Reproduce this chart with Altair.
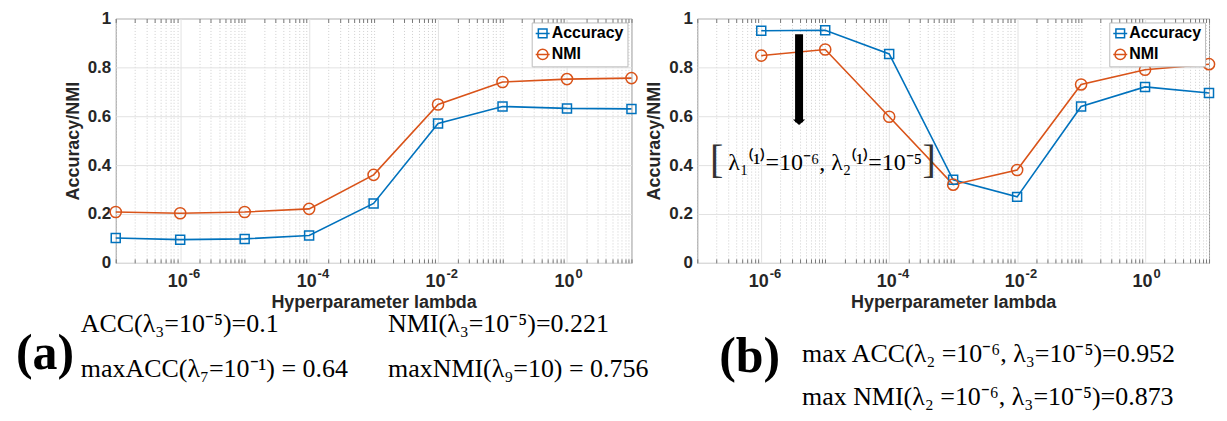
import math
import altair as alt
import pandas as pd

# ---------------- data ----------------
lam_a = [1e-7, 1e-6, 1e-5, 1e-4, 1e-3, 1e-2, 1e-1, 1e0, 1e1]
acc_a = [0.102, 0.095, 0.098, 0.112, 0.243, 0.570, 0.640, 0.632, 0.630]
nmi_a = [0.208, 0.203, 0.208, 0.221, 0.360, 0.648, 0.740, 0.752, 0.756]

lam_b = [1e-6, 1e-5, 1e-4, 1e-3, 1e-2, 1e-1, 1e0, 1e1]
acc_b = [0.950, 0.952, 0.855, 0.340, 0.270, 0.640, 0.720, 0.695]
nmi_b = [0.848, 0.873, 0.598, 0.320, 0.380, 0.730, 0.790, 0.813]

series = ["Accuracy", "NMI"]
colors = ["#0072BD", "#D95319"]

x_domain = [1e-7, 1e1]
x_ticks = [1e-6, 1e-4, 1e-2, 1e0]
x_tick_base = "10"
x_tick_exp = ["-6", "-4", "-2", "0"]
y_ticks = [0, 0.2, 0.4, 0.6, 0.8, 1.0]

text_a_head = "(a)"
text_a = ["ACC(λ₃=10⁻⁵)=0.1", "NMI(λ₃=10⁻⁵)=0.221",
          "maxACC(λ₇=10⁻¹) = 0.64", "maxNMI(λ₉=10) = 0.756"]
text_b_head = "(b)"
text_b = ["max ACC(λ₂ =10⁻⁶, λ₃=10⁻⁵)=0.952",
          "max NMI(λ₂ =10⁻⁶, λ₃=10⁻⁵)=0.873"]

note_text = "λ₁⁽¹⁾=10⁻⁶,  λ₂⁽¹⁾=10⁻⁵"
note_lam = [1e-5]
note_val = [0.41]
bracket_text = ["[", "]"]
bracket_lam = [2.0e-7, 4.2e-4]
bracket_val = [0.415, 0.415]
arrow_lam = [3.9e-6]
arrow_top = [0.935]
arrow_tip = [0.575]

# ---------------- helpers ----------------
minor_ticks = [k * 10.0 ** e for e in range(-7, 1) for k in range(1, 10)
               if not (k == 1 and e % 2 == 0)] + [10.0]

exp_expr = " : ".join(
    f"round(log(datum.value)/LN10) == {round(math.log10(v))} ? '{l}'"
    for v, l in zip(x_ticks, x_tick_exp)) + " : ''"

SANS = "Liberation Sans"
SERIF = "Liberation Serif"
AXC = "#262626"

xscale = alt.Scale(type="log", domain=x_domain, nice=False)
yscale = alt.Scale(domain=[0, 1], nice=False)

x_main = alt.X("lam:Q", scale=xscale, axis=alt.Axis(
    orient="bottom", values=x_ticks, labelExpr=f"'{x_tick_base}'",
    title="Hyperparameter lambda", grid=True, gridColor="#e2e2e2",
    domain=False, ticks=False, labelPadding=10, labelOffset=-3, titlePadding=3,
    labelFont=SANS, labelFontSize=18, labelFontWeight="bold", labelColor=AXC,
    titleFont=SANS, titleFontSize=18, titleFontWeight="bold", titleColor=AXC))
x_sup = alt.X("lam:Q", scale=xscale, axis=alt.Axis(
    orient="bottom", values=x_ticks, labelExpr=exp_expr, title=None,
    grid=False, domain=False, ticks=False, labelPadding=5, labelAlign="left",
    labelOffset=8,
    labelFont=SANS, labelFontSize=13, labelFontWeight="bold", labelColor=AXC))
x_minor = alt.X("lam:Q", scale=xscale, axis=alt.Axis(
    orient="bottom", values=minor_ticks, labels=False, title=None,
    domain=False, ticks=True, tickSize=4, offset=-4, tickColor="#777",
    grid=True, gridDash=[1, 2], gridColor="#cfcfcf"))
x_top = alt.X("lam:Q", scale=xscale, axis=alt.Axis(
    orient="top", values=minor_ticks, labels=False, title=None,
    domain=False, ticks=True, tickSize=4, offset=-4, tickColor="#777",
    grid=False))
x_none = alt.X("lam:Q", scale=xscale, axis=None)

y_axis = alt.Axis(
    values=y_ticks, format="~g", title="Accuracy/NMI", grid=True,
    gridColor="#e2e2e2", domain=False, ticks=False, labelPadding=5,
    titlePadding=5,
    labelFont=SANS, labelFontSize=17, labelFontWeight="bold", labelColor=AXC,
    titleFont=SANS, titleFontSize=18, titleFontWeight="bold", titleColor=AXC)
y_enc = alt.Y("val:Q", scale=yscale, axis=y_axis)

legend_paths = ["M-1,0H1M-0.62,-0.62H0.62V0.62H-0.62Z",
                "M-1,0H1M0.75,0A0.75,0.75 0 1 1 -0.75,0A0.75,0.75 0 1 1 0.75,0Z"]
leg = alt.Legend(title=None, orient="top-right", offset=4, fillColor="white",
                 strokeColor="#bdbdbd", padding=3, rowPadding=4,
                 symbolSize=196, symbolStrokeWidth=1.5, labelOffset=1,
                 labelFont=SANS, labelFontSize=16, labelFontWeight="bold",
                 labelColor="#000")


def txt(s, px, py, size, weight="normal", align="left"):
    return alt.Chart(pd.DataFrame({"label": [s]})).mark_text(
        align=align, baseline="middle", font=SERIF, fontSize=size,
        fontWeight=weight, color="#000").encode(
        text="label:N", x=alt.value(px), y=alt.value(py))


def panel(lam, acc, nmi, width, height, extra):
    df = pd.DataFrame({
        "lam": lam + lam,
        "val": acc + nmi,
        "series": [series[0]] * len(lam) + [series[1]] * len(lam),
    })
    base = alt.Chart(df)
    f_acc = alt.datum.series == series[0]
    f_nmi = alt.datum.series == series[1]
    line_acc = base.transform_filter(f_acc).mark_line(
        color=colors[0], strokeWidth=1.6).encode(x=x_main, y=y_enc)
    line_nmi = base.transform_filter(f_nmi).mark_line(
        color=colors[1], strokeWidth=1.6).encode(x=x_minor, y=y_enc)
    pt_acc = base.transform_filter(f_acc).mark_point(
        shape="square", size=81, filled=False, strokeWidth=1.5, opacity=1,
        color=colors[0]).encode(x=x_top, y=y_enc)
    pt_nmi = base.transform_filter(f_nmi).mark_point(
        shape="circle", size=125, filled=False, strokeWidth=1.5, opacity=1,
        color=colors[1]).encode(x=x_sup, y=y_enc)
    legend_layer = base.transform_filter("false").mark_point(
        filled=False, strokeWidth=1.5, opacity=1).encode(
        x=x_none, y=y_enc,
        color=alt.Color("series:N", scale=alt.Scale(domain=series, range=colors), legend=leg),
        shape=alt.Shape("series:N", scale=alt.Scale(domain=series, range=legend_paths), legend=leg))
    layers = [line_acc, line_nmi, pt_acc, pt_nmi, legend_layer] + extra
    return alt.layer(*layers).resolve_axis(x="independent").properties(
        width=width, height=height)


H = 245
FS = 26
extra_a = [
    txt(text_a_head, -100, 336, 50, "bold"),
    txt(text_a[0], -35, 306, FS),
    txt(text_a[1], 273, 306, FS),
    txt(text_a[2], -35, 351, FS),
    txt(text_a[3], 273, 351, FS),
]

arrow_df = pd.DataFrame({"lam": arrow_lam, "val": arrow_top, "tip": arrow_tip})
arrow_shaft = alt.Chart(arrow_df).mark_rule(color="#000", strokeWidth=8).encode(
    x=x_none, y=y_enc, y2="tip:Q")
arrow_head = alt.Chart(arrow_df).mark_point(
    shape="M-1,-0.45L1,-0.45L0,0.45Z", size=150, filled=True, color="#000",
    opacity=1).encode(x=x_none, y=alt.Y("tip:Q", scale=yscale, axis=y_axis))
note = alt.Chart(pd.DataFrame({"lam": note_lam, "val": note_val, "label": [note_text]})).mark_text(
    font=SERIF, fontSize=24, align="center", baseline="middle", color="#000").encode(
    x=x_none, y=y_enc, text="label:N")
brackets = alt.Chart(pd.DataFrame({"lam": bracket_lam, "val": bracket_val, "label": bracket_text})).mark_text(
    font=SERIF, fontSize=40, align="center", baseline="middle", color="#333").encode(
    x=x_none, y=y_enc, text="label:N")

extra_b = [
    arrow_shaft, arrow_head, note, brackets,
    txt(text_b_head, 22, 339, 50, "bold"),
    txt(text_b[0], 105, 336, FS),
    txt(text_b[1], 105, 379, FS),
]

pa = panel(lam_a, acc_a, nmi_a, 517, H, extra_a)
pb = panel(lam_b, acc_b, nmi_b, 513, H, extra_b)

chart = alt.hconcat(pa, pb, spacing=66, bounds="flush").resolve_scale(
    color="independent", shape="independent"
).properties(
    padding={"left": 7, "top": 0, "right": 0, "bottom": 0}
).configure_view(stroke="#9a9a9a", strokeWidth=1)

chart.save("out.html", embed_options={"renderer": "svg", "actions": False})
